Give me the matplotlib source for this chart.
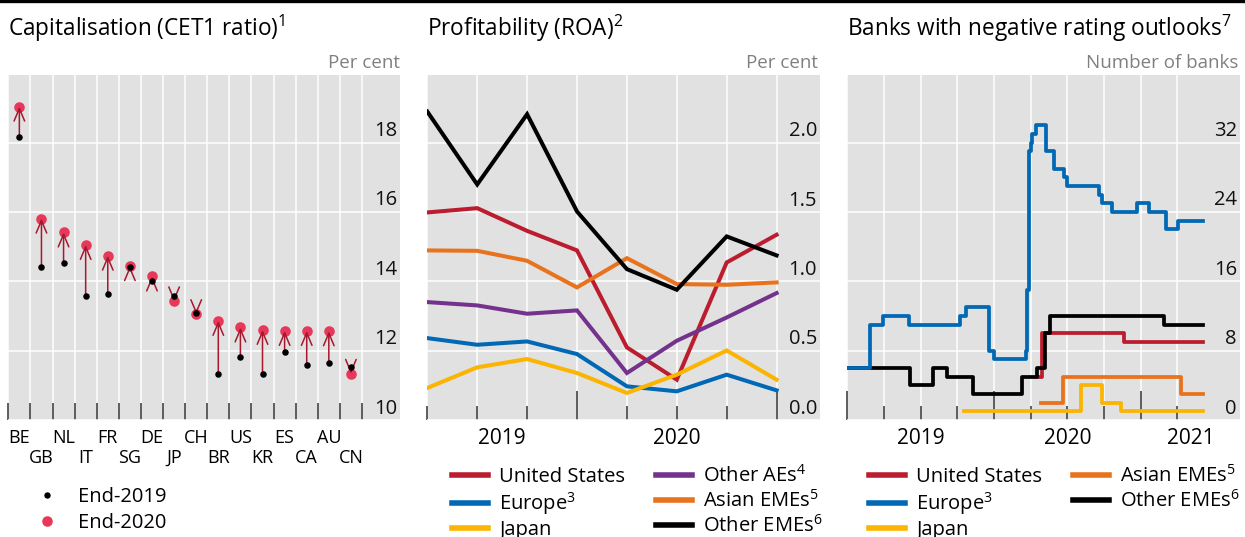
import matplotlib
matplotlib.use('Agg')
import matplotlib.pyplot as plt
from matplotlib.lines import Line2D
from matplotlib.transforms import ScaledTranslation, blended_transform_factory

plt.rcParams['font.family'] = ['Open Sans', 'DejaVu Sans']
plt.rcParams['mathtext.fontset'] = 'custom'
plt.rcParams['mathtext.rm'] = 'Open Sans'
plt.rcParams['mathtext.default'] = 'regular'

# ---------------- data ----------------
countries = ['BE', 'GB', 'NL', 'IT', 'FR', 'SG', 'DE', 'JP', 'CH', 'BR', 'US', 'KR', 'ES', 'CA', 'AU', 'CN']
cet1_2019 = [18.15, 14.42, 14.53, 13.58, 13.63, 14.40, 14.00, 13.57, 13.10, 11.34, 11.83, 11.34, 11.97, 11.59, 11.63, 11.52]
cet1_2020 = [19.04, 15.81, 15.41, 15.05, 14.74, 14.44, 14.14, 13.42, 13.05, 12.86, 12.67, 12.60, 12.57, 12.57, 12.56, 11.33]
cet1_ticks = [10, 12, 14, 16, 18]

quarters = [0, 1, 2, 3, 4, 5, 6, 7]  # Q1 2019 ... Q4 2020
roa_us = [1.498, 1.529, 1.365, 1.224, 0.524, 0.291, 1.137, 1.337]
roa_europe = [0.591, 0.543, 0.567, 0.476, 0.243, 0.207, 0.327, 0.214]
roa_japan = [0.231, 0.380, 0.440, 0.339, 0.195, 0.327, 0.502, 0.291]
roa_other_aes = [0.851, 0.827, 0.767, 0.791, 0.339, 0.572, 0.740, 0.916]
roa_asian_emes = [1.224, 1.221, 1.149, 0.957, 1.168, 0.981, 0.976, 0.993]
roa_other_emes = [2.226, 1.700, 2.207, 1.505, 1.089, 0.940, 1.325, 1.188]
roa_ticks = [0.0, 0.5, 1.0, 1.5, 2.0]
roa_years = ['2019', '2020']

# negative outlooks (time in decimal years, step values)
neg_eu_t = [2019.0, 2019.155, 2019.242, 2019.424, 2019.770, 2019.809, 2019.964, 2020.0, 2020.221,
            2020.224, 2020.240, 2020.250, 2020.262, 2020.289, 2020.352, 2020.357, 2020.408, 2020.476,
            2020.501, 2020.715, 2020.738, 2020.802, 2020.973, 2021.057, 2021.171, 2021.251, 2021.422]
neg_eu_v = [6, 11, 12, 11, 12, 13, 8, 7, 8, 15, 31, 32, 33, 34, 33, 31, 29, 28, 27, 26, 25, 24, 25,
            24, 22, 23, 23]
neg_oth_t = [2019.0, 2019.429, 2019.581, 2019.679, 2019.857, 2020.191, 2020.294, 2020.346, 2020.380,
             2021.158, 2021.422]
neg_oth_v = [6, 4, 6, 5, 3, 5, 6, 10, 12, 11, 11]
neg_us_t = [2020.310, 2020.325, 2020.888, 2021.422]
neg_us_v = [5, 10, 9, 9]
neg_asia_t = [2020.323, 2020.467, 2021.273, 2021.422]
neg_asia_v = [2, 5, 3, 3]
neg_jp_t = [2019.793, 2020.592, 2020.736, 2020.867, 2021.422]
neg_jp_v = [1, 4, 2, 1, 1]
neg_ticks = [0, 8, 16, 24, 32]
neg_years = [2019, 2020, 2021]

# ---------------- style ----------------
W, H, DPI = 1245, 537, 100
BG = '#e1e1e1'
C_US = '#bb1d2f'
C_EU = '#0068b4'
C_JP = '#fbb400'
C_OAE = '#74328d'
C_AS = '#e8731c'
C_OEM = '#000000'
C_DOT = '#e8385a'
C_ARROW = '#a5182e'
GRAY = '#808080'
TICKC = '#333333'

FS_T = 16.3      # titles
FS_U = 13.5      # units
FS_Y = 14.5      # y tick labels
FS_X = 15        # year labels
FS_C = 13        # country labels
FS_L = 14.5      # legends

fig = plt.figure(figsize=(W / DPI, H / DPI), dpi=DPI)
fig.add_artist(Line2D([0, 1], [1 - 1.2 / H] * 2, transform=fig.transFigure, color='k', lw=2.4))


def px_axes(l, r, t, b):
    return fig.add_axes([l / W, 1 - b / H, (r - l) / W, (b - t) / H])


def style(ax):
    ax.set_facecolor(BG)
    for s in ax.spines.values():
        s.set_visible(False)
    ax.tick_params(axis='y', length=0, labelleft=False, labelright=False)
    ax.grid(True, which='both', color='white', lw=1.1)
    ax.set_axisbelow(True)


def ylabels(ax, ticks, fmt):
    tr = blended_transform_factory(ax.transAxes, ax.transData) + \
        ScaledTranslation(-3 / DPI, 6.5 / DPI, fig.dpi_scale_trans)
    for v in ticks:
        ax.text(1, v, fmt(v), transform=tr, ha='right', va='baseline', fontsize=FS_Y, color='#111111')


TOP, BOT = 75, 420

# ---------------- panel 1 ----------------
ax1 = px_axes(8.3, 400, TOP, BOT)
style(ax1)
n = len(countries)
xs = list(range(n))
ax1.set_xlim(-0.5, 17.22)
ax1.set_ylim(10, 19.95)
ax1.set_yticks(cet1_ticks)
ax1.set_xticks([i - 0.5 for i in range(n + 1)])
ax1.set_xticklabels([])
ax1.tick_params(axis='x', which='major', direction='in', length=12, width=1.1, color=TICKC)
ylabels(ax1, cet1_ticks, lambda v: f'{v:d}')

trx1 = blended_transform_factory(ax1.transData, ax1.transAxes)
for i, c in enumerate(countries):
    yrow = -0.052 if i % 2 == 0 else -0.110
    ax1.text(i, yrow, c, transform=trx1, ha='center', va='center', fontsize=FS_C)

ax1.scatter(xs, cet1_2020, s=58, color=C_DOT, zorder=3, linewidths=0)
for i in range(n):
    ax1.annotate('', xy=(i, cet1_2020[i]), xytext=(i, cet1_2019[i]),
                 arrowprops=dict(arrowstyle='->,head_length=0.9,head_width=0.38', color=C_ARROW,
                                 lw=1.1, shrinkA=0, shrinkB=0, mutation_scale=10), zorder=4)
ax1.scatter(xs, cet1_2019, s=22, color='black', zorder=5, linewidths=0)

fig.text(8 / W, 1 - 28 / H, 'Capitalisation (CET1 ratio)$^{1}$', fontsize=FS_T, va='center', ha='left')
fig.text(400 / W, 1 - 62.5 / H, 'Per cent', fontsize=FS_U, color=GRAY, va='center', ha='right')

h1 = [Line2D([], [], ls='none', marker='o', color='black', markersize=4.6, markeredgewidth=0),
      Line2D([], [], ls='none', marker='o', color=C_DOT, markersize=7.6, markeredgewidth=0)]
fig.legend(h1, ['End-2019', 'End-2020'], loc='upper left', bbox_to_anchor=(27 / W, 1 - 487 / H),
           frameon=False, fontsize=FS_L, handlelength=2.0, handletextpad=0.55, labelspacing=0.3,
           borderpad=0, borderaxespad=0)

# ---------------- panel 2 ----------------
ax2 = px_axes(427.3, 820, TOP, BOT)
style(ax2)
ax2.set_xlim(0, 7.87)
ax2.set_ylim(0, 2.49)
ax2.set_yticks(roa_ticks)
ax2.set_xticks([3, 7])
ax2.set_xticks([0, 1, 2, 4, 5, 6], minor=True)
ax2.set_xticklabels([])
ax2.tick_params(axis='x', which='major', direction='in', length=21, width=1.1, color=TICKC)
ax2.tick_params(axis='x', which='minor', direction='in', length=10, width=1.1, color=TICKC)
ylabels(ax2, roa_ticks, lambda v: f'{v:.1f}')
trx2 = blended_transform_factory(ax2.transData, ax2.transAxes)
for xc, lab in zip([1.5, 5.0], roa_years):
    ax2.text(xc, -0.055, lab, transform=trx2, ha='center', va='center', fontsize=FS_X)

LW2 = 2.9
series2 = [(roa_us, C_US, 'United States'), (roa_europe, C_EU, 'Europe$^{3}$'),
           (roa_japan, C_JP, 'Japan'), (roa_other_aes, C_OAE, 'Other AEs$^{4}$'),
           (roa_asian_emes, C_AS, 'Asian EMEs$^{5}$'), (roa_other_emes, C_OEM, 'Other EMEs$^{6}$')]
for vals, c, lab in series2:
    ax2.plot(quarters, vals, color=c, lw=LW2, solid_joinstyle='miter', label=lab)

fig.text(427 / W, 1 - 28 / H, 'Profitability (ROA)$^{2}$', fontsize=FS_T, va='center', ha='left')
fig.text(818 / W, 1 - 62.5 / H, 'Per cent', fontsize=FS_U, color=GRAY, va='center', ha='right')
lh2 = [Line2D([], [], color=c, lw=4) for _, c, _ in series2]
fig.legend(lh2, [s[2] for s in series2], loc='upper left', bbox_to_anchor=(452 / W, 1 - 465 / H),
           ncol=2, frameon=False, fontsize=FS_L, handlelength=1.8, handletextpad=0.55,
           labelspacing=0.16, columnspacing=1.5, borderpad=0, borderaxespad=0)

# ---------------- panel 3 ----------------
ax3 = px_axes(847.3, 1240, TOP, BOT)
style(ax3)
XMAX3 = 2021.677
ax3.set_xlim(2019.0, XMAX3)
ax3.set_ylim(0, 39.8)
ax3.set_yticks(neg_ticks)
ax3.set_xticks(neg_years)
ax3.set_xticks([2019.25, 2019.5, 2019.75, 2020.25, 2020.5, 2020.75, 2021.25], minor=True)
ax3.set_xticklabels([])
ax3.tick_params(axis='x', which='major', direction='in', length=21, width=1.1, color=TICKC)
ax3.tick_params(axis='x', which='minor', direction='in', length=10, width=1.1, color=TICKC)
ylabels(ax3, neg_ticks, lambda v: f'{v:d}')
trx3 = blended_transform_factory(ax3.transData, ax3.transAxes)
for yr in neg_years:
    xc = yr + (min(yr + 1, XMAX3) - yr) / 2
    ax3.text(xc, -0.055, str(yr), transform=trx3, ha='center', va='center', fontsize=FS_X)

LW3 = 2.7
ax3.plot(neg_jp_t, neg_jp_v, drawstyle='steps-post', color=C_JP, lw=LW3, zorder=2)
ax3.plot(neg_asia_t, neg_asia_v, drawstyle='steps-post', color=C_AS, lw=LW3, zorder=2)
ax3.plot(neg_us_t, neg_us_v, drawstyle='steps-post', color=C_US, lw=LW3, zorder=3)
ax3.plot(neg_oth_t, neg_oth_v, drawstyle='steps-post', color=C_OEM, lw=LW3, zorder=4)
ax3.plot(neg_eu_t, neg_eu_v, drawstyle='steps-post', color=C_EU, lw=LW3, zorder=5)

fig.text(847 / W, 1 - 28 / H, 'Banks with negative rating outlooks$^{7}$', fontsize=FS_T, va='center',
         ha='left')
fig.text(1238 / W, 1 - 62.5 / H, 'Number of banks', fontsize=FS_U, color=GRAY, va='center', ha='right')
labs3 = ['United States', 'Europe$^{3}$', 'Japan', 'Asian EMEs$^{5}$', 'Other EMEs$^{6}$']
cols3 = [C_US, C_EU, C_JP, C_AS, C_OEM]
lh3 = [Line2D([], [], color=c, lw=4) for c in cols3]
fig.legend(lh3, labs3, loc='upper left', bbox_to_anchor=(869 / W, 1 - 465 / H),
           ncol=2, frameon=False, fontsize=FS_L, handlelength=1.8, handletextpad=0.55,
           labelspacing=0.16, columnspacing=1.5, borderpad=0, borderaxespad=0)

fig.savefig('out.png', dpi=DPI)
